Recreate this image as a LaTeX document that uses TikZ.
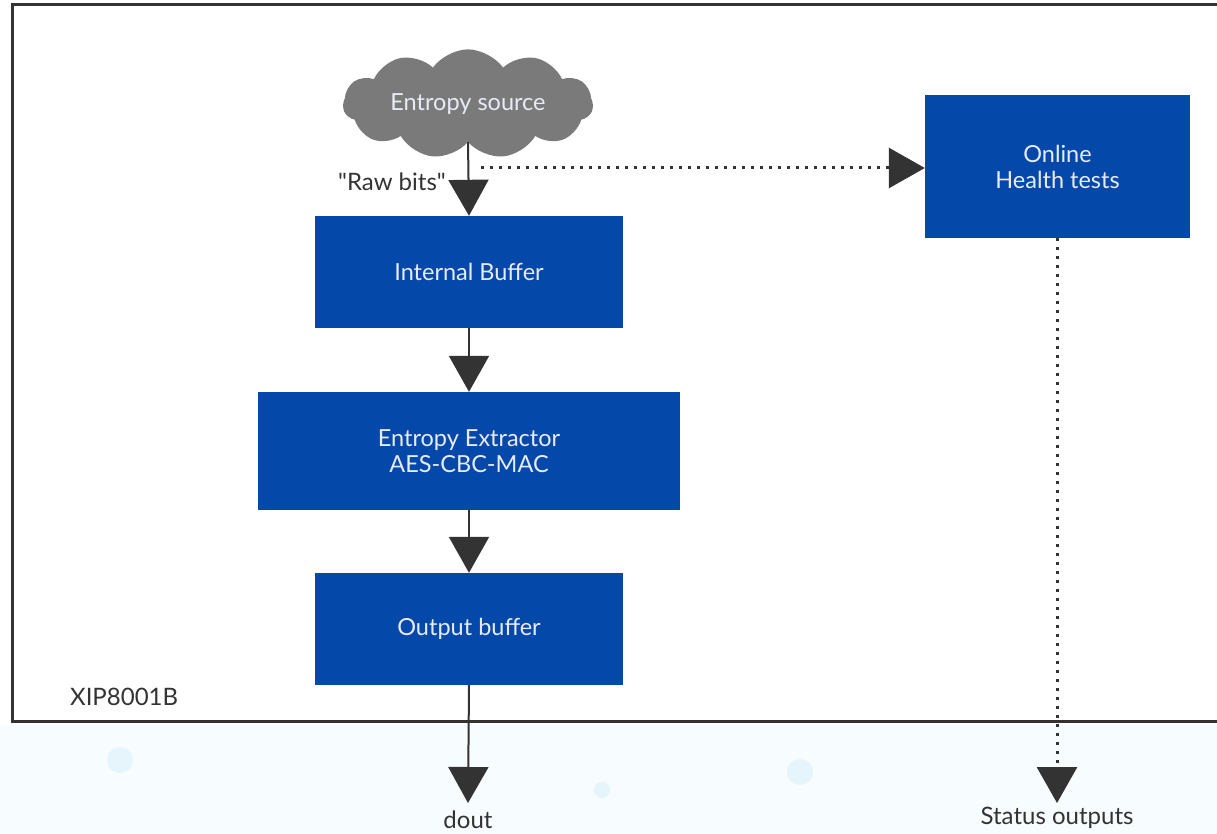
\documentclass[tikz,border=0pt]{standalone}
\usepackage{fontspec}
\setmainfont{Lato}
\usetikzlibrary{arrows.meta,shapes.symbols}
\definecolor{boxblue}{RGB}{4,72,170}
\definecolor{dark}{RGB}{51,51,51}
\definecolor{cloudgray}{RGB}{122,122,122}
\definecolor{boxtext}{RGB}{232,235,246}
\definecolor{haze}{RGB}{214,240,252}
\tikzset{
  block/.style={rectangle, draw=none, fill=boxblue, text=boxtext, align=center,
    font=\fontsize{23.5}{26}\selectfont, inner sep=0pt},
  flow/.style={draw=dark, line width=2pt, -{Triangle[length=36pt,width=40pt]}},
  dotflow/.style={draw=dark, line width=3pt, dash pattern=on 3pt off 6pt,
    -{Triangle[length=36pt,width=40pt]}},
  lbl/.style={text=dark, font=\fontsize{24}{26}\selectfont, inner sep=0pt},
  glow/.style={fill=haze, draw=none, opacity=0.5}
}
\begin{document}
\begin{tikzpicture}[x=1pt,y=-1pt]
\useasboundingbox (0,0) rectangle (1217,834);
\clip (0,0) rectangle (1217,834);
% faint background decoration
\fill[haze!20] (0,725) rectangle (1217,834);
\fill[glow] (120,760) circle (13);
\fill[glow] (602,790) circle (8);
\fill[glow] (800,772) circle (13);
% frame
\draw[dark, line width=3pt, fill=white] (1225,5) -- (12,5) -- (12,721) -- (1225,721);
\node[lbl, anchor=west] (chip) at (70,697) {XIP8001B};
% nodes
\node[cloud, cloud puffs=11, cloud puff arc=110, aspect=2.9, fill=cloudgray, draw=none,
  minimum width=250pt, minimum height=92pt, text=boxtext,
  font=\fontsize{23.5}{26}\selectfont] (src) at (468,104) {Entropy source};
\node[block, minimum width=308pt, minimum height=112pt] (ib) at (469,272) {Internal Buffer};
\node[block, minimum width=422pt, minimum height=118pt] (ee) at (469,451) {Entropy Extractor\\AES-CBC-MAC};
\node[block, minimum width=308pt, minimum height=112pt] (ob) at (469,629) {Output buffer};
\node[block, minimum width=265pt, minimum height=143pt] (ht) at (1057.5,166.5) {Online\\Health tests};
\node[lbl, anchor=east] (raw) at (446,182) {\textquotedbl Raw bits\textquotedbl};
\node[lbl] (dout) at (468,820) {dout};
\node[lbl] (status) at (1057,818) {Status outputs};
\coordinate (tap) at (481,168);
\coordinate (doutend) at (468,803);
\coordinate (statend) at (1057,803);
% connectors
\draw[flow] (src.south) -- (ib.north);
\draw[flow] (ib.south) -- (ee.north);
\draw[flow] (ee.south) -- (ob.north);
\draw[flow] (ob.south) -- (doutend);
\draw[dotflow] (tap) -- (ht.west |- tap);
\draw[dotflow] (ht.south -| statend) -- (statend);
\end{tikzpicture}
\end{document}
